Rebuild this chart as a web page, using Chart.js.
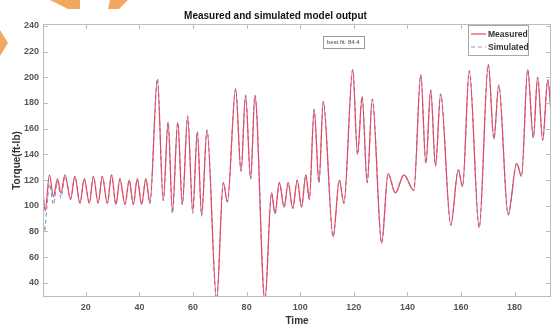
<!DOCTYPE html>
<html lang="en">
  <head>
    <meta charset="UTF-8" />
    <title>Measured and simulated model output</title>
    <script src="https://cdn.jsdelivr.net/npm/chart.js"></script>
    <style>
      body {
        margin: 0;
        background: #fff;
        overflow: hidden;
        font-family: Arial, sans-serif;
      }
      #wrap {
        position: relative;
        width: 552px;
        height: 325px;
      }
      .deco {
        position: absolute;
        background: #f3a862;
      }
    </style>
  </head>
  <body>
    <div id="wrap">
      <canvas id="myChart" width="552" height="330"></canvas>
      <div class="deco" style="left:0;top:30px;width:8px;height:26px;clip-path:polygon(0 0,100% 50%,0 100%)"></div>
      <div class="deco" style="left:50px;top:0;width:30px;height:9px;clip-path:polygon(0 0,100% 0,100% 100%,60% 100%)"></div>
      <div class="deco" style="left:108px;top:0;width:20px;height:9px;clip-path:polygon(10% 0,100% 0,55% 100%,0 100%)"></div>
    </div>

    <script>
      // measured torque: peaks and troughs
      const measuredT = [
        4.0, 4.8, 6.4, 7.9, 9.4, 10.7, 12.2, 14.3, 15.9, 17.8, 19.4, 21.3, 22.8, 24.6, 26.1, 28.0,
        29.6, 31.2, 32.7, 34.6, 36.2, 37.7, 39.2, 40.8, 42.4, 43.9, 46.7, 48.9, 50.7, 52.3, 54.3,
        56.0, 58.0, 59.9, 61.6, 63.2, 65.2, 68.8, 71.3, 72.8, 75.9, 77.9, 79.6, 81.5, 83.1, 86.8,
        89.3, 90.6, 92.2, 94.0, 95.5, 97.2, 98.9, 100.5, 102.1, 103.4, 105.2, 107.0, 108.6, 112.3,
        114.6, 116.3, 119.6, 121.4, 123.1, 125.0, 126.9, 130.4, 132.8, 135.5, 138.7, 142.4, 145.0,
        146.9, 148.7, 150.5, 152.4, 156.2, 159.0, 160.6, 163.1, 166.8, 170.2, 172.3, 174.1, 177.6,
        180.8, 182.6, 184.9, 187.0, 188.6, 190.5, 192.4, 194.0,
      ];
      const measuredV = [
        112, 96, 124, 107, 121, 110, 124, 105, 123, 102, 121, 102, 123, 102, 123, 102,
        124, 101, 121, 101, 120, 101, 121, 101, 121, 102, 198, 104, 165, 96, 165,
        101, 169, 96, 157, 93, 159, 27, 118, 103, 191, 127, 186, 121, 186, 26,
        110, 94, 118, 99, 118, 98, 120, 99, 124, 105, 175, 118, 181, 76,
        120, 102, 206, 140, 185, 118, 183, 71, 125, 110, 124, 112, 202,
        133, 190, 131, 187, 85, 128, 115, 205, 83, 210, 152, 194, 93,
        133, 123, 206, 153, 200, 151, 198, 160,
      ];

      // simulated torque: follows the measured curve, differs at the start
      const simulatedT = [
        4.0, 4.5, 5.5, 6.4, 7.9, 9.4, 10.7, 12.2, 14.3, 15.9, 17.8, 19.4, 21.3, 22.8, 24.6, 26.1, 28.0,
        29.6, 31.2, 32.7, 34.6, 36.2, 37.7, 39.2, 40.8, 42.4, 43.9, 46.7, 48.9, 50.7, 52.3, 54.3,
        56.0, 58.0, 59.9, 61.6, 63.2, 65.2, 68.8, 71.3, 72.8, 75.9, 77.9, 79.6, 81.5, 83.1, 86.8,
        89.3, 90.6, 92.2, 94.0, 95.5, 97.2, 98.9, 100.5, 102.1, 103.4, 105.2, 107.0, 108.6, 112.3,
        114.6, 116.3, 119.6, 121.4, 123.1, 125.0, 126.9, 130.4, 132.8, 135.5, 138.7, 142.4, 145.0,
        146.9, 148.7, 150.5, 152.4, 156.2, 159.0, 160.6, 163.1, 166.8, 170.2, 172.3, 174.1, 177.6,
        180.8, 182.6, 184.9, 187.0, 188.6, 190.5, 192.4, 194.0,
      ];
      const simulatedV = [
        90, 80, 100, 117, 101, 119, 106, 123, 105, 123, 102, 121, 102, 123, 102, 123, 102,
        124, 101, 121, 101, 120, 101, 121, 101, 121, 102, 199, 104, 165, 94, 165,
        101, 170, 94, 158, 92, 159, 27, 118, 103, 191, 127, 186, 121, 186, 26,
        110, 94, 118, 99, 118, 98, 120, 99, 124, 105, 175, 118, 181, 76,
        120, 102, 206, 140, 185, 118, 183, 71, 125, 110, 124, 112, 202,
        133, 190, 131, 187, 85, 128, 115, 205, 83, 210, 152, 194, 93,
        133, 123, 206, 153, 200, 151, 198, 160,
      ];

      const xTicks = [20, 40, 60, 80, 100, 120, 140, 160, 180];
      const yTicks = [40, 60, 80, 100, 120, 140, 160, 180, 200, 220, 240];
      const bestFit = "best fit: 84.4";

      const toPoints = (xs, ys) => xs.map((x, i) => ({ x: x, y: ys[i] }));

      // box with inward ticks on all four sides
      const frame = {
        id: "frame",
        afterDatasetsDraw(chart) {
          const { ctx, chartArea: a, scales } = chart;
          ctx.save();
          ctx.strokeStyle = "#bdbdbd";
          ctx.lineWidth = 1;
          ctx.strokeRect(a.left + 0.5, a.top + 0.5, a.right - a.left - 1, a.bottom - a.top - 1);
          ctx.beginPath();
          xTicks.forEach((v) => {
            const px = Math.round(scales.x.getPixelForValue(v)) + 0.5;
            ctx.moveTo(px, a.bottom);
            ctx.lineTo(px, a.bottom - 5);
            ctx.moveTo(px, a.top);
            ctx.lineTo(px, a.top + 5);
          });
          yTicks.forEach((v) => {
            const py = Math.round(scales.y.getPixelForValue(v)) + 0.5;
            ctx.moveTo(a.left, py);
            ctx.lineTo(a.left + 5, py);
            ctx.moveTo(a.right, py);
            ctx.lineTo(a.right - 5, py);
          });
          ctx.stroke();
          ctx.restore();
        },
        afterDraw(chart) {
          const { ctx, chartArea: a } = chart;
          ctx.save();
          // best fit box
          ctx.font = "6px Arial";
          const bx = a.left + 280;
          const by = a.top + 12;
          ctx.fillStyle = "#fff";
          ctx.fillRect(bx, by, 41, 12);
          ctx.strokeStyle = "#999";
          ctx.strokeRect(bx + 0.5, by + 0.5, 41, 12);
          ctx.fillStyle = "#444";
          ctx.textBaseline = "middle";
          ctx.fillText(bestFit, bx + 4, by + 6.5);

          // legend
          const lx = a.right - 83;
          const ly = a.top + 1;
          ctx.fillStyle = "#fff";
          ctx.fillRect(lx, ly, 60, 30);
          ctx.strokeStyle = "#a8a8a8";
          ctx.strokeRect(lx + 0.5, ly + 0.5, 60, 30);
          ctx.font = "bold 8.5px Arial";
          chart.data.datasets.forEach((ds, i) => {
            const yy = ly + 9 + i * 13;
            ctx.strokeStyle = ds.borderColor;
            ctx.lineWidth = 1.2;
            ctx.setLineDash(ds.borderDash || []);
            ctx.beginPath();
            ctx.moveTo(lx + 3, yy);
            ctx.lineTo(lx + 18, yy);
            ctx.stroke();
            ctx.setLineDash([]);
            ctx.fillStyle = "#333";
            ctx.fillText(ds.label, lx + 20, yy + 0.5);
          });
          ctx.restore();
        },
      };

      const ctx = document.getElementById("myChart");
      new Chart(ctx, {
        type: "line",
        data: {
          datasets: [
            {
              label: "Measured",
              data: toPoints(measuredT, measuredV),
              borderColor: "#e8475e",
              borderWidth: 1.2,
              pointRadius: 0,
              cubicInterpolationMode: "monotone",
            },
            {
              label: "Simulated",
              data: toPoints(simulatedT, simulatedV),
              borderColor: "#8a9bcf",
              borderDash: [4, 3],
              borderWidth: 1.2,
              pointRadius: 0,
              cubicInterpolationMode: "monotone",
            },
          ],
        },
        options: {
          responsive: false,
          animation: false,
          devicePixelRatio: 1,
          layout: { padding: { left: 0, right: 1, top: 0, bottom: 0 } },
          plugins: {
            legend: { display: false },
            tooltip: { enabled: false },
            title: {
              display: true,
              text: "Measured and simulated model output",
              color: "#111",
              font: { family: "Arial", size: 10, weight: "bold" },
              padding: { top: 10, bottom: 2 },
            },
          },
          scales: {
            x: {
              type: "linear",
              min: 4,
              max: 193.6,
              afterFit: (s) => { s.height = 33; },
              afterBuildTicks: (s) => { s.ticks = xTicks.map((v) => ({ value: v })); },
              grid: { display: false, drawTicks: false },
              border: { display: false },
              ticks: {
                padding: 5,
                color: "#555",
                font: { family: "Arial", size: 9, weight: "bold" },
              },
              title: {
                display: true,
                text: "Time",
                color: "#333",
                font: { family: "Arial", size: 10, weight: "bold" },
                padding: { top: 0, bottom: 3 },
              },
            },
            y: {
              min: 29,
              max: 241.5,
              afterFit: (s) => { s.width = 43; },
              afterBuildTicks: (s) => { s.ticks = yTicks.map((v) => ({ value: v })); },
              grid: { display: false, drawTicks: false },
              border: { display: false },
              ticks: {
                padding: 4,
                color: "#555",
                font: { family: "Arial", size: 9, weight: "bold" },
              },
              title: {
                display: true,
                text: "Torque(ft-lb)",
                color: "#333",
                font: { family: "Arial", size: 10, weight: "bold" },
                padding: { top: 11, bottom: 0 },
              },
            },
          },
        },
        plugins: [frame],
      });
    </script>
  </body>
</html>
